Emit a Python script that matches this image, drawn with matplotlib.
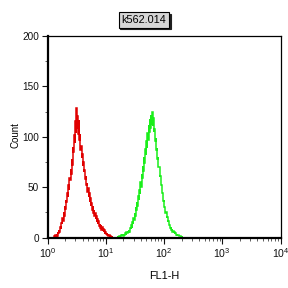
import numpy as np
import matplotlib
matplotlib.use("Agg")
import matplotlib.pyplot as plt
from matplotlib.ticker import LogLocator, MultipleLocator

plt.rcParams['font.family'] = ['Liberation Sans', 'DejaVu Sans']
plt.rcParams['mathtext.fontset'] = 'custom'
plt.rcParams['mathtext.rm'] = 'Liberation Sans'
plt.rcParams['mathtext.it'] = 'Liberation Sans'

title = "k562.014"
x_label = "FL1-H"
y_label = "Count"
y_ticks = [0, 50, 100, 150, 200]
x_ticks = [1, 10, 100, 1000, 10000]
x_tick_labels = [r"$10^{0}$", r"$10^{1}$", r"$10^{2}$", r"$10^{3}$", r"$10^{4}$"]

# histogram channels in log10 units (decades)
bin_width = 0.01
red_start = 0.095
red_counts = [0, 0, 1, 0, 2, 1, 3, 1, 5, 4, 7, 5, 10, 8, 14, 13, 19, 16, 25, 21,
              31, 28, 37, 35, 44, 40, 52, 47, 59, 57, 68, 63, 78, 72, 90, 85, 102, 94, 116, 104,
              129, 108, 121, 103, 117, 97, 103, 87, 91, 79, 83, 71, 75, 65, 67, 58, 61, 52, 54, 45,
              49, 40, 44, 35, 39, 31, 34, 27, 31, 24, 27, 21, 24, 18, 21, 15, 18, 13, 16, 11,
              13, 9, 12, 7, 10, 6, 8, 5, 7, 3, 5, 3, 4, 2, 3, 1, 2, 2, 1, 1,
              0, 1, 0, 0]
green_start = 1.195
green_counts = [0, 1, 0, 0, 1, 0, 1, 2, 1, 2, 1, 3, 2, 3, 4, 2, 5, 4, 6, 5,
                7, 5, 9, 8, 12, 9, 15, 13, 19, 17, 24, 21, 30, 27, 35, 31, 41, 37, 47, 43,
                55, 50, 63, 59, 71, 66, 80, 74, 88, 82, 96, 89, 104, 97, 112, 105, 118, 109, 122, 113,
                125, 111, 119, 105, 108, 96, 99, 87, 89, 78, 80, 70, 70, 60, 61, 52, 52, 44, 44, 36,
                37, 30, 30, 24, 25, 19, 20, 15, 16, 12, 12, 9, 10, 7, 8, 5, 6, 4, 5, 3,
                4, 2, 3, 2, 2, 2, 1, 1, 1, 1, 0, 1, 0, 0]

fig = plt.figure(figsize=(2.88, 2.88), dpi=100)
ax = fig.add_axes([47.5 / 288, 1 - 237.5 / 288, 233 / 288, 201.5 / 288])

def edges(start, n):
    return 10 ** (start + bin_width * np.arange(n + 1))

ax.stairs(red_counts, edges(red_start, len(red_counts)), color='#e00000', lw=1.1)
ax.stairs(green_counts, edges(green_start, len(green_counts)), color='#1aee1a', lw=1.1)

ax.set_xscale('log')
ax.set_xlim(1, 10000)
ax.set_ylim(0, 200)
ax.set_xticks(x_ticks)
ax.set_xticklabels(x_tick_labels)
ax.xaxis.set_minor_locator(LogLocator(base=10, subs=np.arange(2, 10)))
ax.xaxis.set_minor_formatter(plt.NullFormatter())
ax.set_yticks(y_ticks)
ax.yaxis.set_minor_locator(MultipleLocator(25))

ax.tick_params(axis='both', which='major', direction='out', length=4, width=0.8,
               labelsize=7.2, pad=2, colors='#111111')
ax.tick_params(axis='x', which='major', labelsize=7.6)
ax.tick_params(axis='both', which='minor', direction='out', length=2, width=0.6, colors='#444444')

for side in ['left', 'bottom']:
    ax.spines[side].set_linewidth(1.6)
for side in ['top', 'right']:
    ax.spines[side].set_linewidth(0.9)

ax.set_xlabel(x_label, fontsize=7.8)
ax.set_ylabel(y_label, fontsize=7.0)
ax.xaxis.set_label_coords(0.5, -0.166)
ax.yaxis.set_label_coords(-0.115, 0.51)

# title box with shadow
fig.text(145.5 / 288, 1 - 21.5 / 288, title, fontsize=7.8, ha='center', va='center', color='black',
         bbox=dict(boxstyle='square,pad=0.25', facecolor='#202020', edgecolor='#202020', lw=0.8))
fig.text(144 / 288, 1 - 20 / 288, title, fontsize=7.8, ha='center', va='center', color='black',
         bbox=dict(boxstyle='square,pad=0.25', facecolor='#d6d6d6', edgecolor='black', lw=0.8))

fig.savefig('out.png', dpi=100)
